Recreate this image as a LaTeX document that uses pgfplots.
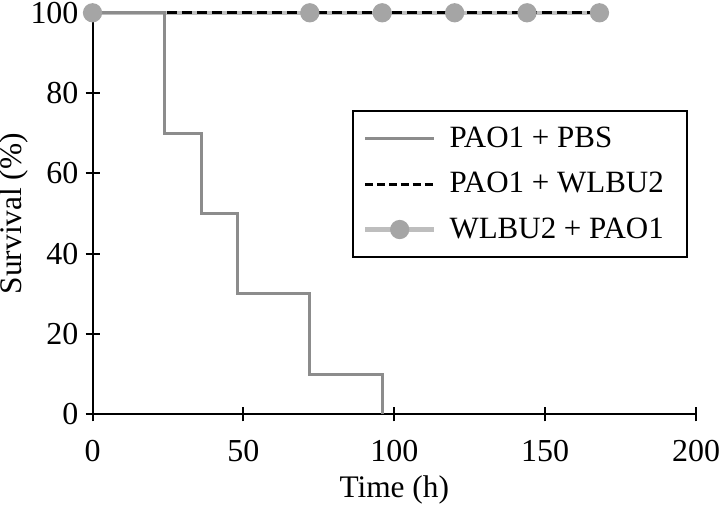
\documentclass[border=0pt]{standalone}
\usepackage{fontspec}
\setmainfont{Liberation Serif}
\usepackage{pgfplots}
\pgfplotsset{compat=1.18}
\definecolor{pbsgray}{RGB}{140,140,140}
\definecolor{wlgray}{RGB}{190,190,190}
\definecolor{mkgray}{RGB}{165,165,165}

\begin{document}
\begin{tikzpicture}
\begin{axis}[
    width=302pt, height=201pt,
    scale only axis,
    xmin=0, xmax=200, ymin=0, ymax=100,
    xtick={0,50,100,150,200},
    ytick={0,20,40,60,80,100},
    axis x line*=bottom, axis y line*=left,
    axis line style={line width=1pt, -},
    tick align=center,
    major tick length=7pt,
    tick style={line width=1pt, black},
    xlabel={Time (h)}, ylabel={Survival (\%)},
    label style={font=\fontsize{15.7}{18}\selectfont},
    tick label style={font=\fontsize{16}{19}\selectfont},
    xticklabel style={inner xsep=0pt, yshift=-6pt},
    yticklabel style={inner ysep=1pt},
    ylabel style={inner sep=0pt, yshift=-2.5pt},
    /pgf/number format/assume math mode=true,
    clip=false,
    legend cell align=left,
    legend style={at={(0.43,0.758)}, anchor=north west,
        draw=black, line width=0.8pt,
        font=\fontsize{15.5}{18}\selectfont,
        row sep=7pt, inner xsep=5pt, inner ysep=6pt,
        nodes={inner xsep=6.5pt}},
    legend image code/.code={
        \draw[#1] (0cm,0cm) -- (1.22cm,0cm);
        \draw[#1, mark repeat=2, mark phase=2] plot coordinates {(0cm,0cm) (0.61cm,0cm) (1.22cm,0cm)};
    },
]
\addlegendimage{pbsgray, line width=1.5pt}
\addlegendentry{PAO1 + PBS}
\addlegendimage{black, line width=1.5pt, dash pattern=on 4pt off 2pt}
\addlegendentry{PAO1 + WLBU2}
\addlegendimage{wlgray, line width=2.2pt, mark=*, mark size=3.7pt, mark options={fill=mkgray, draw=mkgray, solid}}
\addlegendentry{WLBU2 + PAO1}

\addplot[forget plot, wlgray, line width=2.2pt, mark=*, mark size=3.7pt,
    mark options={fill=mkgray, draw=mkgray}] coordinates {
    (0,100) (72,100) (96,100) (120,100) (144,100) (168,100)
};
\addplot[forget plot, black, line width=1.5pt, dash pattern=on 5pt off 2.5pt] coordinates {
    (0,100) (168,100)
};
\addplot[forget plot, pbsgray, line width=1.5pt, const plot] coordinates {
    (0,100) (24,70) (36,50) (48,30) (72,10) (96,0)
};
\end{axis}
\end{tikzpicture}
\end{document}
